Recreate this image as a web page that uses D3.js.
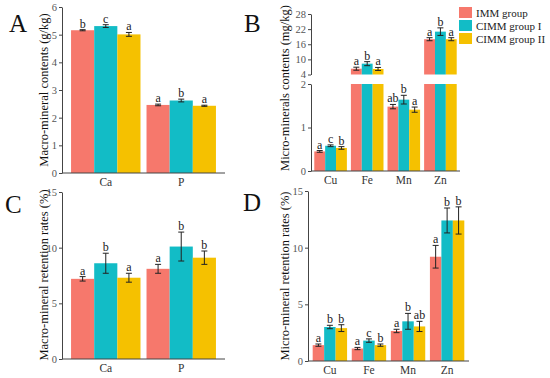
<!DOCTYPE html>
<html>
<head>
<meta charset="utf-8">
<script src="https://cdn.jsdelivr.net/npm/d3@7"></script>
<style>
  body { margin: 0; background: #fff; }
  svg text { font-family: "Liberation Serif", "Times New Roman", serif; }
</style>
</head>
<body>
<svg id="chart" width="550" height="378"></svg>
<script>
// groups and colours
const groups = ['IMM group', 'CIMM group I', 'CIMM group II'];
const colors = ['#F6786C', '#12BCC6', '#F5C100'];

// A: macro-mineral contents (g/kg)
const macroMinerals = ['Ca', 'P'];
const macroContent = [[5.16, 5.31, 5.01], [2.46, 2.62, 2.43]];
const macroContentErr = [[0.02, 0.05, 0.07], [0.03, 0.05, 0.02]];
const macroContentSig = [['b', 'c', 'a'], ['a', 'b', 'a']];

// B: micro-mineral contents (mg/kg), broken axis
const microMinerals = ['Cu', 'Fe', 'Mn', 'Zn'];
const microContent = [[0.45, 0.58, 0.53], [6.3, 8.3, 6.2], [1.48, 1.64, 1.41], [18.0, 21.0, 18.0]];
const microContentErr = [[0.02, 0.02, 0.03], [0.6, 0.8, 0.6], [0.05, 0.1, 0.06], [0.6, 1.5, 0.6]];
const microContentSig = [['a', 'c', 'b'], ['a', 'b', 'a'], ['ab', 'b', 'a'], ['a', 'b', 'a']];
const microLowTicks = [0, 1, 2];
const microHighTicks = [4, 10, 16, 22, 28];

// C: macro-mineral retention rates (%)
const macroRetention = [[7.2, 8.6, 7.3], [8.1, 10.1, 9.1]];
const macroRetentionErr = [[0.2, 0.9, 0.4], [0.4, 1.3, 0.6]];
const macroRetentionSig = [['a', 'b', 'a'], ['a', 'b', 'b']];

// D: micro-mineral retention rates (%)
const microRetention = [[1.4, 3.0, 2.9], [1.1, 1.8, 1.4], [2.65, 3.5, 3.05], [9.2, 12.4, 12.4]];
const microRetentionErr = [[0.1, 0.15, 0.3], [0.1, 0.15, 0.1], [0.15, 0.7, 0.45], [1.0, 1.1, 1.2]];
const microRetentionSig = [['a', 'b', 'b'], ['a', 'c', 'b'], ['a', 'b', 'ab'], ['a', 'b', 'b']];

const serif = '"Liberation Serif", "Times New Roman", serif';
const svg = d3.select('#chart');

function yAxis(g, scale, ticks) {
  g.call(d3.axisLeft(scale).tickValues(ticks).tickFormat(d3.format('d')).tickSize(3).tickSizeOuter(0));
  g.attr('font-family', serif);
  g.select('.domain').attr('stroke', '#444');
  g.selectAll('.tick line').attr('stroke', '#444');
  g.selectAll('.tick text').attr('fill', '#555').attr('font-size', 10.5).attr('dx', 1);
}

function drawPanel(cfg) {
  const g = svg.append('g');
  const x0 = d3.scaleBand().domain(cfg.cats).range([cfg.left, cfg.right])
    .paddingInner(cfg.pi).paddingOuter(cfg.po);
  const x1 = d3.scaleBand().domain(d3.range(3)).range([0, x0.bandwidth()]);

  // for the broken axis, values above the break use the upper scale
  const scaleFor = v => (cfg.yHigh && v > cfg.breakLow) ? cfg.yHigh : cfg.y;

  cfg.cats.forEach((c, i) => {
    cfg.values[i].forEach((v, j) => {
      const bx = x0(c) + x1(j), bw = x1.bandwidth();
      if (cfg.yHigh && v > cfg.breakLow) {
        g.append('rect').attr('x', bx).attr('width', bw)
          .attr('y', cfg.y(cfg.breakLow)).attr('height', cfg.y(0) - cfg.y(cfg.breakLow))
          .attr('fill', colors[j]);
        g.append('rect').attr('x', bx).attr('width', bw)
          .attr('y', cfg.yHigh(v)).attr('height', cfg.yHigh(cfg.breakHigh) - cfg.yHigh(v))
          .attr('fill', colors[j]);
      } else {
        g.append('rect').attr('x', bx).attr('width', bw)
          .attr('y', cfg.y(v)).attr('height', cfg.y(0) - cfg.y(v))
          .attr('fill', colors[j]);
      }
      const ys = scaleFor(v);
      const e = cfg.errs[i][j];
      const cx = bx + bw / 2;
      const top = ys(v + e), bot = ys(v - e);
      g.append('line').attr('x1', cx).attr('x2', cx).attr('y1', top).attr('y2', bot)
        .attr('stroke', '#222').attr('stroke-width', 1);
      [top, bot].forEach(yy => g.append('line')
        .attr('x1', cx - 3).attr('x2', cx + 3).attr('y1', yy).attr('y2', yy)
        .attr('stroke', '#222').attr('stroke-width', 1));
      g.append('text').attr('x', cx).attr('y', top - 2)
        .attr('text-anchor', 'middle').attr('font-size', 12).attr('fill', '#222')
        .text(cfg.sig[i][j]);
    });
  });

  // x axis line and labels
  const base = cfg.y(0);
  g.append('line').attr('x1', cfg.left).attr('x2', cfg.right).attr('y1', base).attr('y2', base)
    .attr('stroke', '#444');
  cfg.cats.forEach(c => g.append('text')
    .attr('x', x0(c) + x0.bandwidth() / 2).attr('y', base + 13)
    .attr('text-anchor', 'middle').attr('font-size', 11.5).attr('fill', '#333').text(c));

  // y axis
  yAxis(g.append('g').attr('transform', `translate(${cfg.left},0)`), cfg.y, cfg.ticks);
  if (cfg.yHigh) {
    yAxis(g.append('g').attr('transform', `translate(${cfg.left},0)`), cfg.yHigh, cfg.highTicks);
  }

  // y label
  g.append('text')
    .attr('transform', `translate(${cfg.labelX},${cfg.labelY}) rotate(-90)`)
    .attr('text-anchor', 'middle').attr('font-size', 12.5).attr('fill', '#111')
    .text(cfg.label);

  // panel letter
  g.append('text').attr('x', cfg.letterX).attr('y', cfg.letterY)
    .attr('font-size', 25).attr('fill', '#111').text(cfg.letter);
}

// A
drawPanel({
  cats: macroMinerals, values: macroContent, errs: macroContentErr, sig: macroContentSig,
  left: 62, right: 225, pi: 0.08, po: 0.12,
  y: d3.scaleLinear().domain([0, 6]).range([173, 7]), ticks: d3.range(0, 7),
  label: 'Macro-mineral contents (g/kg)', labelX: 48, labelY: 90,
  letter: 'A', letterX: 9, letterY: 32
});

// B
drawPanel({
  cats: microMinerals, values: microContent, errs: microContentErr, sig: microContentSig,
  left: 311, right: 460, pi: 0.11, po: 0.09,
  y: d3.scaleLinear().domain([0, 2]).range([171, 84]), ticks: microLowTicks,
  yHigh: d3.scaleLinear().domain([4, 28]).range([74.5, 14]), highTicks: microHighTicks,
  breakLow: 2, breakHigh: 4,
  label: 'Micro-minerals contents (mg/kg)', labelX: 289, labelY: 88,
  letter: 'B', letterX: 244, letterY: 32
});

// C
drawPanel({
  cats: macroMinerals, values: macroRetention, errs: macroRetentionErr, sig: macroRetentionSig,
  left: 62, right: 225, pi: 0.08, po: 0.12,
  y: d3.scaleLinear().domain([0, 15]).range([359, 192]), ticks: [0, 5, 10, 15],
  label: 'Macro-mineral retention rates (%)', labelX: 48, labelY: 275,
  letter: 'C', letterX: 5, letterY: 213
});

// D
drawPanel({
  cats: microMinerals, values: microRetention, errs: microRetentionErr, sig: microRetentionSig,
  left: 308, right: 469, pi: 0.12, po: 0.12,
  y: d3.scaleLinear().domain([0, 15]).range([361, 191]), ticks: [0, 5, 10, 15],
  label: 'Micro-mineral retention rates (%)', labelX: 289, labelY: 276,
  letter: 'D', letterX: 243, letterY: 211
});

// legend
const legend = svg.append('g').attr('transform', 'translate(459,7)');
groups.forEach((name, i) => {
  legend.append('rect').attr('x', 0).attr('y', i * 13).attr('width', 13).attr('height', 11)
    .attr('fill', colors[i]);
  legend.append('text').attr('x', 17).attr('y', i * 13 + 9.5)
    .attr('font-size', 11).attr('fill', '#222').text(name);
});
</script>
</body>
</html>
